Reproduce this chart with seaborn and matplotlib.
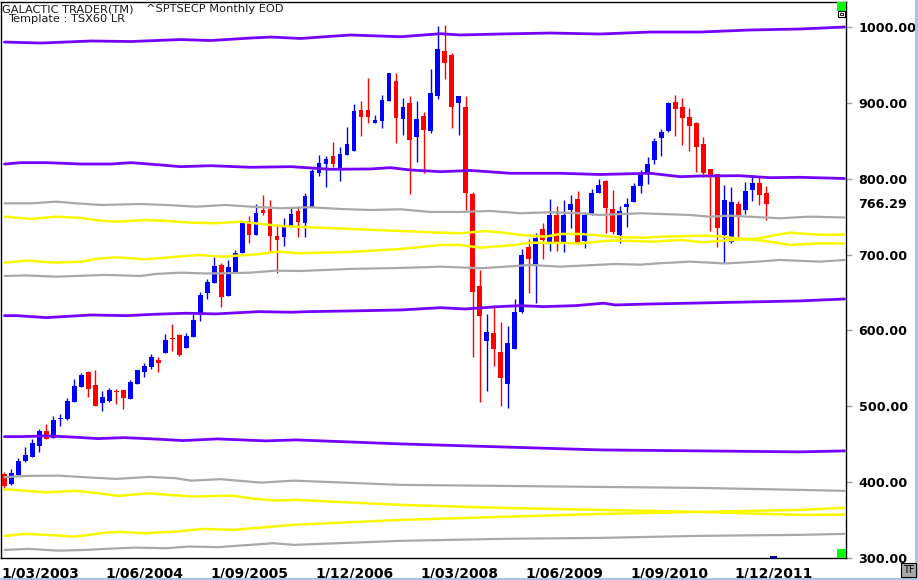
import numpy as np
import pandas as pd
import matplotlib
matplotlib.use("Agg")
import matplotlib.pyplot as plt
import seaborn as sns
from matplotlib.patches import Rectangle
from matplotlib.transforms import offset_copy

# monthly candles, month 0 = Mar 2003
opens = [410.9, 397.3, 410.0, 427.6, 433.7, 447.0, 467.1, 458.8, 482.9, 483.8,
         506.2, 526.0, 545.3, 528.2, 504.9, 507.5, 520.7, 521.6, 510.2, 530.0,
         545.8, 552.3, 561.1, 569.9, 590.1, 594.5, 577.4, 591.9, 622.6, 649.8,
         662.1, 686.3, 645.5, 675.3, 701.7, 744.3, 725.8, 759.2, 759.7, 724.5,
         723.6, 738.1, 757.5, 742.1, 763.2, 808.0, 819.4, 830.0, 812.8, 831.3,
         837.0, 890.6, 890.6, 873.9, 876.5, 902.9, 928.8, 878.7, 899.8, 855.4,
         882.7, 862.9, 909.5, 968.4, 963.5, 900.3, 894.5, 779.9, 658.6, 586.6,
         596.2, 571.2, 529.9, 576.0, 624.8, 710.0, 688.1, 733.7, 717.0, 752.2,
         714.9, 758.8, 773.3, 717.9, 755.3, 780.7, 797.0, 759.7, 725.9, 763.2,
         769.8, 790.5, 806.3, 824.7, 854.2, 863.0, 901.2, 894.6, 881.4, 874.0,
         845.8, 812.9, 806.3, 725.9, 716.2, 766.8, 758.9, 785.2, 794.0, 780.8]
highs = [413.1, 417.5, 431.5, 446.5, 456.6, 470.2, 476.8, 487.3, 489.5, 511.0,
         536.1, 544.0, 546.6, 548.0, 520.3, 523.8, 522.5, 521.6, 534.8, 548.0,
         557.2, 569.0, 565.1, 595.4, 608.5, 595.4, 596.2, 624.8, 651.2, 668.3,
         696.4, 689.4, 692.9, 706.1, 744.7, 750.9, 766.7, 778.6, 772.0, 740.3,
         747.8, 763.2, 764.1, 780.7, 812.8, 831.3, 830.0, 848.4, 842.3, 868.6,
         898.5, 902.9, 932.8, 884.0, 910.4, 939.4, 939.4, 906.0, 909.0, 902.5,
         887.9, 944.6, 1001.3, 1002.6, 965.3, 909.0, 909.0, 782.5, 679.7, 621.7,
         634.0, 611.2, 605.9, 641.5, 707.8, 720.1, 728.9, 741.7, 773.3, 764.1,
         772.0, 778.5, 783.4, 756.6, 786.5, 799.6, 798.3, 785.1, 764.1, 774.2,
         794.0, 811.6, 829.1, 853.3, 865.6, 901.2, 910.4, 906.9, 892.8, 874.8,
         855.5, 812.9, 806.3, 791.8, 788.7, 771.2, 795.8, 804.5, 801.9, 790.9]
lows = [389.8, 396.4, 410.0, 426.7, 433.7, 439.9, 456.6, 458.8, 474.1, 482.5,
        506.2, 526.0, 512.4, 501.0, 493.9, 505.3, 503.1, 497.0, 510.2, 530.0,
        539.2, 549.7, 545.3, 569.9, 573.0, 566.8, 576.5, 591.9, 612.9, 641.9,
        662.1, 631.4, 645.5, 675.3, 701.7, 715.7, 725.8, 752.2, 705.2, 676.2,
        711.3, 738.1, 723.6, 723.6, 763.2, 803.6, 789.6, 815.0, 797.5, 831.3,
        837.0, 856.3, 873.9, 873.9, 866.4, 902.9, 847.5, 857.6, 779.4, 822.5,
        807.1, 859.9, 904.6, 931.9, 867.3, 857.6, 758.8, 565.5, 506.2, 520.7,
        553.6, 500.9, 498.3, 576.0, 623.5, 649.8, 636.7, 694.6, 705.2, 704.8,
        703.9, 734.6, 714.0, 709.1, 752.2, 780.7, 728.9, 727.2, 715.8, 736.0,
        769.8, 781.7, 792.7, 819.5, 830.5, 861.2, 856.8, 844.5, 837.0, 809.4,
        801.9, 731.6, 710.5, 688.6, 714.9, 722.8, 753.6, 770.7, 765.4, 745.7]
closes = [395.5, 411.8, 428.0, 436.0, 451.3, 467.6, 457.4, 482.1, 483.8, 507.1,
          526.9, 541.4, 523.3, 501.0, 511.9, 521.6, 519.4, 511.5, 532.1, 548.0,
          553.2, 565.1, 557.6, 587.5, 588.8, 567.7, 592.7, 613.8, 646.8, 663.9,
          685.0, 644.6, 684.1, 701.7, 742.1, 725.8, 754.4, 755.3, 725.0, 719.7,
          736.8, 753.5, 742.5, 777.2, 810.6, 820.3, 826.0, 819.4, 832.6, 845.8,
          889.3, 881.8, 881.8, 877.4, 903.8, 939.4, 880.5, 894.5, 851.1, 878.7,
          864.2, 913.0, 971.0, 953.0, 895.0, 909.0, 780.8, 651.2, 619.5, 597.5,
          576.0, 537.8, 583.1, 624.4, 699.5, 694.6, 722.3, 719.3, 752.2, 714.9,
          752.2, 766.7, 714.0, 752.2, 781.6, 791.7, 761.9, 730.2, 757.5, 766.8,
          790.5, 805.0, 819.5, 850.2, 862.1, 900.3, 892.0, 880.5, 870.0, 842.3,
          808.1, 805.0, 735.6, 772.0, 769.0, 750.9, 783.9, 794.0, 778.6, 766.29]

tick_labels = ["1/03/2003", "1/06/2004", "1/09/2005", "1/12/2006",
               "1/03/2008", "1/06/2009", "1/09/2010", "1/12/2011"]
price_ticks = [300, 400, 500, 600, 700, 800, 900, 1000]
last_price = 766.29

# projected cycle bands: (month, value) readings
p1_m = [0, 5.2, 12.4, 18.1, 25.2, 29.5, 35.2, 38.1, 42.4, 45.2, 49.5, 56.7, 62.4, 65.2,
        70.9, 78.1, 85.2, 92.4, 99.5, 106.7, 113.8, 120.2]
p1_v = [980.2, 978.9, 981.6, 980.9, 983.5, 982.2, 985.5, 986.8, 984.9, 986.8, 989.5,
        987.2, 991.2, 989.5, 990.8, 992.1, 990.8, 993.4, 993.4, 996.1, 997.4, 1000.0]
p2_m = [0, 2.4, 6.0, 11.0, 15.2, 18.1, 22.4, 25.2, 29.5, 35.2, 41.0, 46.7, 52.4, 55.2,
        58.1, 62.4, 66.7, 72.4, 79.5, 85.2, 92.4, 96.7, 99.5, 105.2, 109.5, 113.8, 120.2]
p2_v = [819.4, 821.2, 821.2, 819.4, 819.4, 821.2, 818.1, 815.9, 817.2, 815.1, 815.9,
        812.5, 812.9, 814.6, 811.5, 809.3, 810.9, 807.2, 807.2, 805.6, 807.2, 802.7,
        803.6, 804.0, 801.4, 801.9, 800.3]
g1_m = [0, 3.8, 7.4, 10.2, 13.8, 19.5, 23.1, 27.4, 31.7, 35.2, 39.5, 43.8, 48.1, 52.4,
        56.7, 60.9, 65.2, 69.5, 73.8, 78.1, 82.4, 85.2, 90.9, 98.1, 100.9, 103.8, 110.9,
        115.2, 120.2]
g1_v = [767.6, 767.6, 769.8, 767.6, 765.4, 766.7, 765.4, 763.2, 765.4, 763.2, 761.1,
        762.4, 760.1, 758.8, 759.7, 756.2, 756.2, 757.5, 754.5, 755.8, 754.5, 752.2,
        754.5, 752.2, 750.0, 751.3, 747.9, 750.0, 748.9]
y1_m = [0, 3.8, 7.4, 11.0, 13.8, 16.0, 20.2, 23.1, 26.7, 30.2, 33.8, 36.7, 39.5, 42.4,
        49.5, 56.7, 62.4, 65.2, 68.8, 71.7, 73.8, 77.4, 79.5, 82.4, 85.2, 87.4, 91.7,
        93.8, 100.2, 102.4, 105.6, 108.8, 112.4, 116.6, 120.2]
y1_v = [750.0, 747.0, 750.0, 748.3, 744.7, 743.4, 745.6, 744.3, 742.1, 741.3, 743.4,
        740.4, 737.7, 736.4, 733.8, 731.1, 728.9, 728.1, 731.1, 728.5, 725.9, 723.6,
        727.2, 727.2, 725.2, 722.9, 722.3, 723.6, 725.0, 723.9, 720.6, 718.0, 712.7,
        714.9, 714.7]
y2_m = [0, 3.1, 7.4, 11.0, 13.1, 15.7, 20.2, 23.8, 27.8, 31.0, 36.2, 39.1, 41.9, 49.5,
        56.7, 62.4, 65.2, 68.1, 73.1, 75.2, 79.5, 82.4, 85.2, 87.4, 92.8, 96.7, 99.8,
        104.5, 108.1, 110.3, 112.4, 114.8, 117.7, 120.2]
y2_v = [689.4, 692.0, 689.4, 690.7, 694.2, 696.5, 693.8, 696.5, 699.5, 697.3, 700.4,
        703.9, 701.8, 703.5, 707.4, 712.7, 712.7, 709.1, 712.7, 715.7, 715.3, 714.7,
        717.3, 718.6, 717.0, 719.3, 716.3, 719.3, 721.5, 725.9, 728.9, 727.2, 725.9,
        726.5]
g2_m = [0, 3.1, 7.4, 14.5, 19.5, 21.7, 25.2, 28.8, 31.7, 35.2, 38.8, 42.4, 49.5, 56.7,
        62.4, 68.1, 71.7, 75.2, 79.5, 84.5, 87.4, 90.9, 93.8, 98.1, 103.1, 107.7, 110.9,
        116.7, 120.2]
g2_v = [671.8, 672.5, 670.9, 673.2, 671.8, 674.5, 676.2, 675.1, 675.4, 676.2, 678.8,
        678.4, 681.1, 682.4, 684.1, 682.0, 684.1, 686.3, 684.1, 686.3, 687.6, 686.7,
        688.6, 690.7, 688.3, 690.7, 692.9, 690.7, 692.9]
p3_m = [0, 1.7, 6.0, 12.4, 17.4, 21.7, 26.0, 30.2, 36.4, 41.0, 43.4, 49.5, 56.7, 62.4,
        65.9, 70.7, 73.8, 77.1, 81.7, 85.7, 87.4, 92.4, 99.5, 106.7, 113.8, 120.2]
p3_v = [619.5, 619.5, 616.9, 620.4, 619.5, 621.4, 622.7, 621.8, 624.8, 624.0, 624.8,
        625.7, 627.0, 630.0, 628.3, 631.4, 632.7, 631.4, 632.7, 635.9, 633.6, 634.9,
        636.2, 637.6, 638.9, 641.5]
p4_m = [0, 2.4, 6.0, 10.2, 13.4, 17.1, 22.1, 25.5, 30.5, 37.4, 41.7, 56.7, 70.9, 85.2,
        99.5, 113.8, 120.2]
p4_v = [460.0, 460.0, 461.0, 459.2, 457.4, 458.7, 456.6, 454.8, 457.0, 454.4, 455.7,
        450.4, 446.5, 442.5, 441.2, 439.9, 441.2]
g3_m = [0, 3.1, 7.8, 12.4, 16.0, 20.7, 24.5, 26.7, 30.9, 36.7, 41.4, 56.7, 70.9, 85.2,
        99.5, 113.8, 120.2]
g3_v = [406.5, 408.2, 408.6, 406.0, 404.3, 406.9, 405.2, 402.0, 403.9, 399.4, 402.0,
        396.4, 395.1, 393.7, 392.4, 389.8, 388.5]
y3_m = [0, 3.1, 6.0, 10.2, 13.4, 16.2, 18.8, 20.7, 23.4, 27.1, 32.4, 35.9, 38.8, 41.7,
        56.7, 70.9, 85.2, 99.5, 113.8, 120.2]
y3_v = [390.7, 388.5, 386.7, 388.5, 385.4, 381.9, 383.9, 385.4, 383.2, 381.0, 382.3,
        377.9, 375.7, 376.6, 370.0, 366.1, 363.4, 360.8, 356.8, 357.2]
y4_m = [0, 3.1, 7.8, 10.0, 12.1, 14.5, 16.7, 20.0, 24.5, 28.4, 32.8, 38.4, 41.2, 56.7,
        70.9, 85.2, 99.5, 113.8, 120.2]
y4_v = [329.2, 331.8, 329.6, 328.2, 330.5, 333.5, 334.4, 332.7, 334.8, 338.4, 337.1,
        341.4, 343.7, 350.2, 354.2, 358.1, 360.8, 363.4, 366.1]
g4_m = [0, 3.5, 7.7, 11.7, 15.2, 18.8, 23.1, 26.4, 30.5, 34.5, 38.5, 41.4, 56.7, 70.9,
        85.2, 99.5, 113.8, 120.2]
g4_v = [310.7, 312.0, 309.7, 310.7, 312.4, 313.7, 312.9, 315.1, 314.3, 316.9, 319.5,
        317.3, 322.6, 325.2, 326.5, 329.2, 330.5, 331.8]

PURPLE, GRAY, YELLOW = "#7400ff", "#a8a8a8", "#f8f800"
bands = [
    ("p1", p1_m, p1_v, PURPLE, 2.0), ("p2", p2_m, p2_v, PURPLE, 2.0),
    ("g1", g1_m, g1_v, GRAY, 1.6), ("y1", y1_m, y1_v, YELLOW, 1.8),
    ("y2", y2_m, y2_v, YELLOW, 1.8), ("g2", g2_m, g2_v, GRAY, 1.6),
    ("p3", p3_m, p3_v, PURPLE, 2.0), ("p4", p4_m, p4_v, PURPLE, 2.0),
    ("g3", g3_m, g3_v, GRAY, 1.6), ("y3", y3_m, y3_v, YELLOW, 1.8),
    ("y4", y4_m, y4_v, YELLOW, 1.8), ("g4", g4_m, g4_v, GRAY, 1.6),
]

candles = pd.DataFrame({"open": opens, "high": highs, "low": lows, "close": closes})
candles["month"] = np.arange(len(candles))
candles["up"] = candles["close"] >= candles["open"]
candles["color"] = np.where(candles["up"], "#0000ff", "#ff0000")
candles["bottom"] = candles[["open", "close"]].min(axis=1)
candles["body"] = (candles["close"] - candles["open"]).abs().clip(lower=1.2)

sns.set_style("white")
plt.rcParams["font.family"] = ["DejaVu Sans"]

W, H = 918, 580
fig = plt.figure(figsize=(W / 100, H / 100), dpi=100)
fig.patch.set_facecolor("white")
ax = fig.add_axes([1 / W, 1 - 558 / H, 845 / W, 556 / H])

# candles
ax.vlines(candles["month"], candles["low"], candles["high"],
          colors=candles["color"], linewidth=1.0, zorder=2)
ax.bar(candles["month"], candles["body"], bottom=candles["bottom"], width=0.68,
       color=candles["color"], linewidth=0, zorder=3)

# cycle bands drawn on top of the candles
for name, m, v, col, lw in bands:
    df = pd.DataFrame({"month": m, "value": v})
    sns.lineplot(data=df, x="month", y="value", color=col, linewidth=lw,
                 ax=ax, zorder=4, legend=False)

ax.set_xlim(-0.33, 120.4)
ax.set_ylim(300, 1033)
ax.set_xlabel("")
ax.set_ylabel("")

for s in ax.spines.values():
    s.set_visible(True)
    s.set_color("black")
    s.set_linewidth(1.0)

ax.yaxis.tick_right()
ax.set_yticks(price_ticks)
ax.set_yticklabels([f"{p:.2f}" for p in price_ticks])
ax.tick_params(axis="y", length=4, width=1, color="#a0a0a0", pad=5,
               labelsize=9.2, labelcolor="black", direction="out")
for lab in ax.get_yticklabels():
    lab.set_fontweight("bold")
    lab.set_horizontalalignment("left")

ax.set_xticks([15 * k - 0.5 for k in range(len(tick_labels))])
ax.set_xticklabels(tick_labels)
ax.tick_params(axis="x", length=4, width=1, color="#a0a0a0", pad=2,
               labelsize=10, labelcolor="black", direction="out")
for lab in ax.get_xticklabels():
    lab.set_fontweight("bold")
    lab.set_horizontalalignment("left")

# last price label beside the price scale
trans = offset_copy(ax.get_yaxis_transform(), fig=fig, x=12 * 0.72, y=0, units="points")
ax.text(1.0, last_price, f"{last_price:.2f}", transform=trans,
        ha="left", va="center", fontsize=9.2, fontweight="bold", color="black",
        clip_on=False)

# header texts
fig.text(2 / W, 1 - 9 / H, "GALACTIC TRADER(TM)", fontsize=8.2, color="#1a1a1a",
         ha="left", va="center")
fig.text(146 / W, 1 - 9 / H, "^SPTSECP Monthly EOD", fontsize=8.2, color="#1a1a1a",
         ha="left", va="center")
fig.text(8 / W, 1 - 19 / H, "Template : TSX60 LR", fontsize=8.2, color="#1a1a1a",
         ha="left", va="center")

# corner widgets
def px_rect(x0, y0, w, h, **kw):
    fig.patches.append(Rectangle((x0 / W, 1 - (y0 + h) / H), w / W, h / H,
                                 transform=fig.transFigure, **kw))

px_rect(837, 2, 9, 9, facecolor="#00ff00", edgecolor="none", zorder=5)
px_rect(838, 11, 7, 6, facecolor="white", edgecolor="black", linewidth=0.8, zorder=5)
px_rect(840, 13, 3, 2, facecolor="none", edgecolor="black", linewidth=0.6, zorder=6)
px_rect(837, 549, 9, 9, facecolor="#00ff00", edgecolor="none", zorder=5)
px_rect(770, 556, 7, 3, facecolor="#000080", edgecolor="none", zorder=5)
px_rect(901, 563, 15, 14, facecolor="#a8a8a8", edgecolor="black", linewidth=0.8, zorder=5)
fig.text(908.5 / W, 1 - 570 / H, "TF", fontsize=7, color="black",
         ha="center", va="center", zorder=6)
px_rect(915, 0, 3, 580, facecolor="#a6c4e8", edgecolor="none", zorder=1)
px_rect(0, 578, 918, 2, facecolor="#a6c4e8", edgecolor="none", zorder=1)

fig.savefig("out.png", dpi=100)
